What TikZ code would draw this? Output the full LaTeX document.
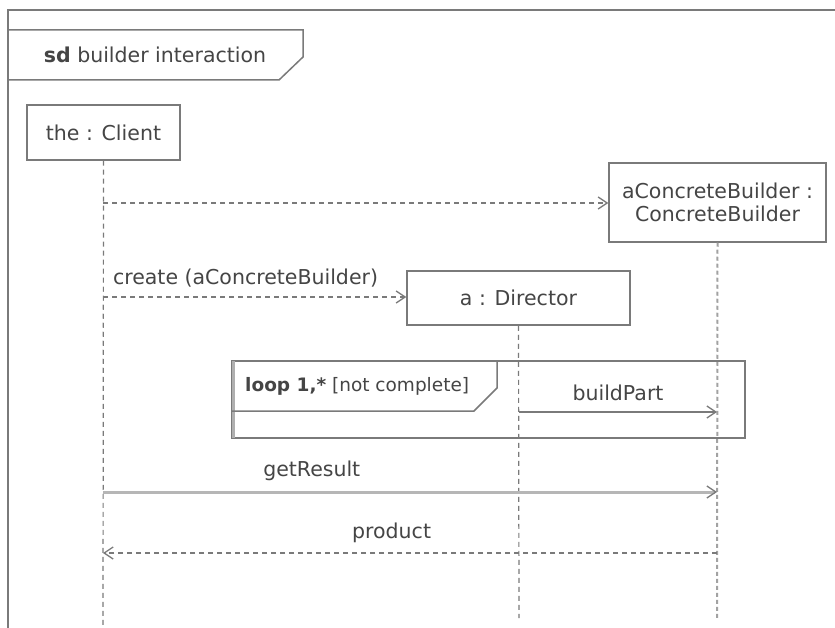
\documentclass[tikz,border=0pt]{standalone}
\usepackage{fontspec}
\setmainfont{DejaVu Sans}
\usetikzlibrary{arrows.meta}
\definecolor{ln}{HTML}{7A7A7A}
\definecolor{tx}{HTML}{454545}
\tikzset{
  obj/.style={draw=ln, line width=1.5pt, fill=white, text=tx, align=center, inner sep=0pt},
  lifeline/.style={draw=ln, line width=1.2pt, dash pattern=on 5pt off 4pt},
  lifeline2/.style={draw=ln!70, line width=2pt, dash pattern=on 4pt off 3pt},
  frameline/.style={draw=ln, line width=1.5pt},
  msgsync/.style={draw=ln, line width=1.5pt, -{Straight Barb[length=9pt,width=12pt,line width=1.3pt]}},
  msgdash/.style={draw=ln, line width=1.3pt, dash pattern=on 5pt off 4pt, -{Straight Barb[length=9pt,width=12pt,line width=1.3pt]}},
  lbl/.style={text=tx, inner sep=0pt},
}
\begin{document}
\begin{tikzpicture}[x=1pt,y=-1pt, font=\fontsize{20.5}{24}\selectfont]
\useasboundingbox (0,0) rectangle (835,628);
\fill[white] (0,0) rectangle (835,628);
% outer frame
\draw[frameline] (8,628) -- (8,10) -- (835,10);
% sd tab
\draw[frameline] (8,30) -- (303,30) -- (303,57) -- (279,80) -- (8,80);
\node[lbl, anchor=center] (title) at (155,55) {\textbf{sd} builder interaction};
% objects
\node[obj, minimum width=153pt, minimum height=55pt] (client) at (103.5,132.5) {the : Client};
\node[obj, minimum width=217pt, minimum height=79pt] (builder) at (717.5,202.5) {aConcreteBuilder :\\[-1pt] ConcreteBuilder};
\node[obj, minimum width=223pt, minimum height=54pt] (director) at (518.5,298) {a : Director};
% lifeline ends
\coordinate (cEnd) at (103,628);
\coordinate (bEnd) at (717,618);
\coordinate (dEnd) at (519,618);
\draw[lifeline] (client.south) -- (cEnd);
\draw[lifeline2] (builder.south) -- (bEnd);
\draw[lifeline] (director.south) -- (dEnd);
% messages
\draw[msgdash] (103,203) -- (builder.west |- 0,203);
\draw[msgdash] (103,297) -- node[lbl, above=9pt, pos=0.47] (createlbl) {create (aConcreteBuilder)} (director.west |- 0,297);
% loop frame
\node[draw=ln, line width=1.5pt, minimum width=513pt, minimum height=77pt, inner sep=0pt] (loop) at (488.5,399.5) {};
\draw[ln!60, line width=3pt] (233.5,361) -- (233.5,438);
\draw[frameline] (loop.north west -| 497,0) -- (497,388) -- (474,411) -- (loop.west |- 0,411);
\node[lbl, anchor=west, font=\fontsize{18.5}{22}\selectfont] (looplbl) at (245,386) {\textbf{loop 1,*} [not complete]};
\draw[msgsync] (519,412) -- node[lbl, above=10pt, pos=0.5] (bp) {buildPart} (717,412);
% getResult
\draw[msgsync, draw=ln!55, line width=3pt, -{Straight Barb[length=9pt,width=12pt,line width=1.3pt,color=ln]}] (103,492) -- node[lbl, above=10pt, pos=0.34] (gr) {getResult} (717,492);
% product
\draw[msgdash] (717,553) -- node[lbl, above=10pt, pos=0.53] (pr) {product} (103,553);
\end{tikzpicture}
\end{document}
